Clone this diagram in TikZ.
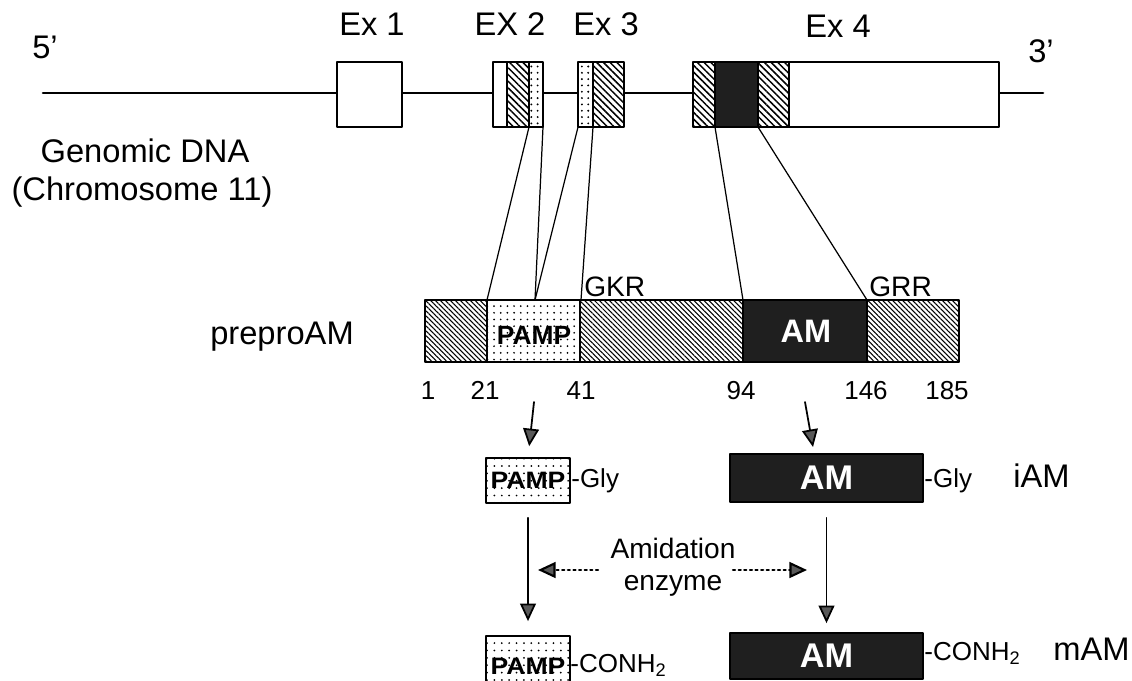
\documentclass[tikz,border=0pt]{standalone}
\usepackage{fontspec}
\setmainfont{Liberation Sans}
\usetikzlibrary{arrows.meta,patterns.meta}

\begin{document}
\begin{tikzpicture}[
        x=0.02cm, y=-0.02cm,
        line cap=round,
        line join=round,
        big/.style={font=\fontsize{18.6}{22}\selectfont, inner sep=0pt},
        mid/.style={font=\fontsize{16}{19}\selectfont, inner sep=0pt},
        sml/.style={font=\fontsize{14.8}{17}\selectfont, inner sep=0pt},
        wh/.style={draw, line width=1.1pt, fill=white},
        hx/.style={draw, line width=1.1pt, preaction={fill=white}, pattern={Lines[angle=-45,distance=2.7pt,line width=0.85pt]}},
        dx/.style={draw, line width=1.1pt, preaction={fill=white}, pattern={Dots[distance=3.6pt,radius=0.6pt]}},
        dk/.style={draw, line width=1.1pt, fill=black!88},
        hb/.style={draw, line width=1pt, preaction={fill=white}, pattern={Lines[angle=-45,distance=2pt,line width=0.6pt]}},
        db/.style={draw, line width=1pt, preaction={fill=white}, pattern={Dots[distance=3.8pt,radius=0.55pt]}},
        pbox/.style={draw, line width=1pt, preaction={fill=white}, pattern={Dots[distance=4.2pt,radius=0.55pt]},
            minimum width=1.68cm, inner sep=0pt, font=\bfseries\fontsize{13.5}{15}\selectfont},
        abox/.style={draw, line width=1pt, fill=black!88, text=white, minimum width=3.86cm, inner sep=0pt,
            font=\bfseries\fontsize{19.5}{22}\selectfont},
        cn/.style={line width=0.7pt},
        arr/.style={line width=1pt, -{Triangle[length=10pt,width=9pt,fill=black!65]}},
        darr/.style={line width=1.2pt, dotted, -{Triangle[length=10pt,width=9pt,fill=black!65]}}
    ]
        \useasboundingbox (0,0) rectangle (1132,680);
        \clip (0,0) rectangle (1132,680);

        \coordinate (dna5) at (43,93);
        \coordinate (dna3) at (1043,93);
        \draw[line width=1.5pt] (dna5) -- (dna3);

        \foreach \a/\b/\s in {337/402/wh, 493/507/wh, 507/529/hx, 529/543/dx, 578/593/dx, 593/624/hx,
                693/715/hx, 715/758/dk, 758/789/hx, 789/999/wh}{
            \draw[\s] (\a,62) rectangle (\b,127);
        }

        \node[big, anchor=base] (five) at (45,58) {5’};
        \node[big, anchor=base] (three) at (1041,62) {3’};
        \node[big, anchor=base] (ex1) at (372,35) {Ex 1};
        \node[big, anchor=base] (ex2) at (510,35) {EX 2};
        \node[big, anchor=base] (ex3) at (606,35) {Ex 3};
        \node[big, anchor=base] (ex4) at (838,37) {Ex 4};
        \node[big, anchor=base] (gdna) at (145,162) {Genomic DNA};
        \node[big, anchor=base] (chr) at (142,200) {(Chromosome 11)};

        \foreach \a/\b/\s in {425/487/hb, 487/580/db, 580/743/hb, 743/867/dk, 867/959/hb}{
            \draw[\s] (\a,300) rectangle (\b,362);
        }
        \node[font=\bfseries\fontsize{15}{18}\selectfont, inner sep=0pt] (pamp) at (534,335) {PAMP};
        \node[font=\bfseries\fontsize{18.5}{22}\selectfont, text=white, inner sep=0pt] (am) at (806,331) {AM};

        \node[big, anchor=base] (prepro) at (282,344) {preproAM};
        \node[mid, anchor=base west] (gkr) at (584,296) {GKR};
        \node[mid, anchor=base west] (grr) at (869,296) {GRR};

        \foreach \x/\n in {428/1, 485/21, 581/41, 741/94, 866/146, 947/185}{
            \node[sml, anchor=base] (n\n) at (\x,399) {\n};
        }

        \coordinate (e2h) at (529,127);
        \coordinate (e2r) at (543,127);
        \coordinate (e3l) at (578,127);
        \coordinate (e3d) at (593,127);
        \coordinate (e4a) at (715,127);
        \coordinate (e4b) at (758,127);
        \coordinate (b21) at (487,300);
        \coordinate (bmd) at (535,300);
        \coordinate (b41) at (581,300);
        \coordinate (b94) at (743,300);
        \coordinate (b146) at (867,300);

        \draw[cn] (e2h) -- (b21);
        \draw[cn] (e2r) -- (bmd);
        \draw[cn] (e3l) -- (bmd);
        \draw[cn] (e3d) -- (b41);
        \draw[cn] (e4a) -- (b94);
        \draw[cn] (e4b) -- (b146);

        \node[pbox, minimum height=0.9cm] (pgly) at (528,480.5) {\scalebox{1.12}[1]{PAMP}};
        \node[sml, anchor=base west] (gly1) at (571,487) {-Gly};
        \node[abox, minimum height=0.96cm] (amg) at (826.5,478) {AM};
        \node[sml, anchor=base west] (gly2) at (924,487) {-Gly};
        \node[big, anchor=base west] (iam) at (1013,487) {iAM};

        \node[pbox, minimum height=1.2cm] (pcon) at (528,666) {\scalebox{1.12}[1]{PAMP}};
        \node[sml, anchor=base west] (con1) at (570,672) {-CONH\textsubscript{2}};
        \node[abox, minimum height=0.92cm] (amc) at (826.5,656) {AM};
        \node[sml, anchor=base west] (con2) at (924,660) {-CONH\textsubscript{2}};
        \node[big, anchor=base west] (mam) at (1053,660) {mAM};

        \node[mid, anchor=base] (amid) at (673,558) {Amidation};
        \node[mid, anchor=base] (enz) at (673,590) {enzyme};

        \coordinate (pcut) at (534,402);
        \coordinate (acut) at (805,402);
        \coordinate (atip) at (813,447);
        \coordinate (dls) at (598,570);
        \coordinate (dlt) at (538,570);
        \coordinate (drs) at (733,570);
        \coordinate (drt) at (807,570);

        \draw[arr, shorten >=0.22cm] (pcut) -- (pgly.north);
        \draw[arr] (acut) -- (atip);
        \draw[arr, shorten <=0.28cm, shorten >=0.28cm] (pgly) -- (pcon);
        \draw[arr, shorten <=0.3cm, shorten >=0.18cm] (amg) -- (amc);
        \draw[darr] (dls) -- (dlt);
        \draw[darr] (drs) -- (drt);
    \end{tikzpicture}
\end{document}
